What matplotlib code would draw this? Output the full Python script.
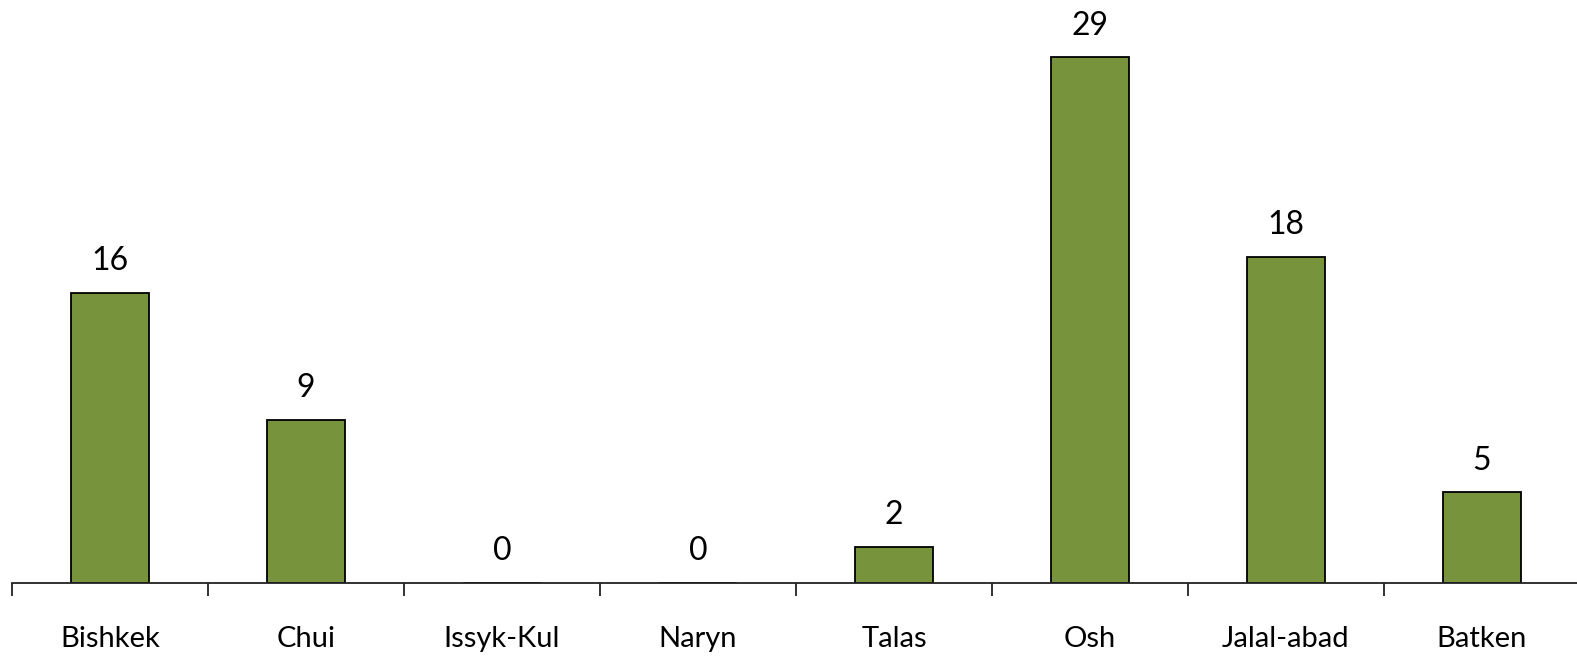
import matplotlib
matplotlib.use("Agg")
import matplotlib.pyplot as plt
import numpy as np

categories = ["Bishkek", "Chui", "Issyk-Kul", "Naryn", "Talas", "Osh", "Jalal-abad", "Batken"]
values = [16, 9, 0, 0, 2, 29, 18, 5]

plt.rcParams['font.family'] = ['Lato', 'DejaVu Sans']

fig = plt.figure(figsize=(15.77, 6.56), dpi=100)
ax = fig.add_axes([12/1577, 1 - 583/656, 1568/1577, 583/656])

x = np.arange(len(categories))
bars = ax.bar(x, values, width=0.40, color="#77933C", edgecolor="black", linewidth=1.3, zorder=2)

for xi, v in zip(x, values):
    ax.annotate(str(v), (xi, v), xytext=(0, 12), textcoords="offset points",
                ha="center", va="bottom", fontsize=23, color="black")

ax.set_xlim(-0.5, len(categories) - 0.5)
ax.set_ylim(0, 32.17)

for s in ["top", "right", "left"]:
    ax.spines[s].set_visible(False)
ax.spines["bottom"].set_linewidth(1.3)
ax.spines["bottom"].set_color("#222222")
ax.set_yticks([])

ax.set_xticks(x)
ax.set_xticklabels(categories, fontsize=21)
ax.tick_params(axis="x", which="major", length=0, pad=31)
ax.set_xticks(np.arange(len(categories)) - 0.5, minor=True)
ax.tick_params(axis="x", which="minor", length=9.5, width=1.3, color="#222222")

fig.savefig("out.png", dpi=100)
